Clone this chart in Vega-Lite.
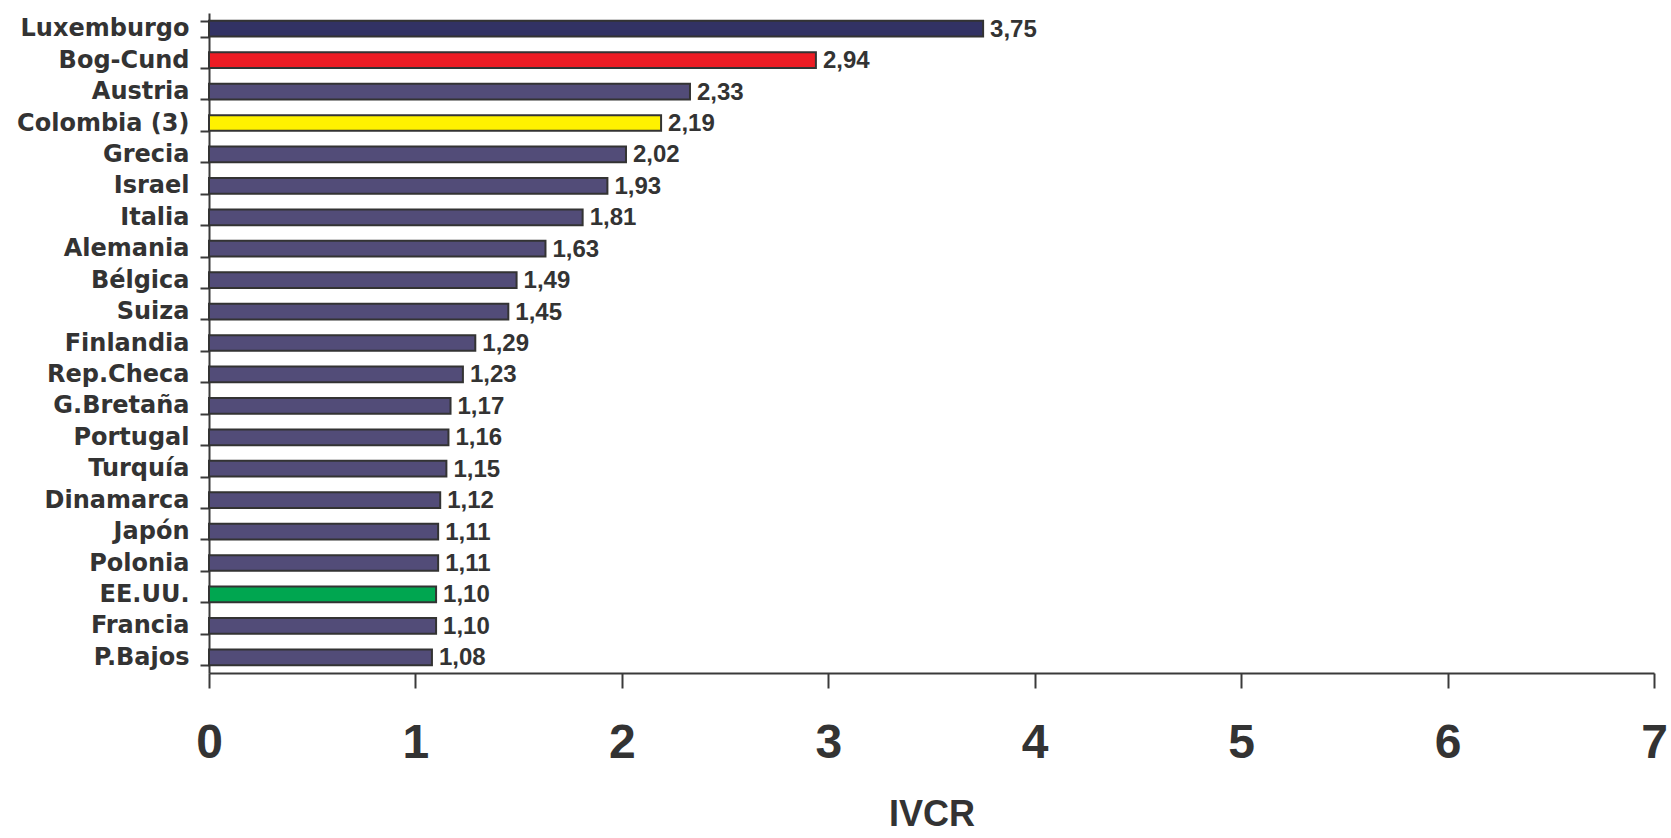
{
  "$schema": "https://vega.github.io/schema/vega-lite/v6.json",
  "autosize": {"type": "none"},
  "width": 1445,
  "height": 660,
  "padding": {"left": 209, "top": 13, "right": 17, "bottom": 165},
  "background": "white",
  "config": {
    "locale": {"number": {"decimal": ",", "thousands": ".", "grouping": [3], "currency": ["", ""]}},
    "view": {"stroke": null},
    "font": "Liberation Sans"
  },
  "data": {
    "values": [
      {"pais": "Luxemburgo", "ivcr": 3.75, "grupo": "Luxemburgo"},
      {"pais": "Bog-Cund", "ivcr": 2.94, "grupo": "Bogotá"},
      {"pais": "Austria", "ivcr": 2.33, "grupo": "Otros"},
      {"pais": "Colombia (3)", "ivcr": 2.19, "grupo": "Colombia"},
      {"pais": "Grecia", "ivcr": 2.02, "grupo": "Otros"},
      {"pais": "Israel", "ivcr": 1.93, "grupo": "Otros"},
      {"pais": "Italia", "ivcr": 1.81, "grupo": "Otros"},
      {"pais": "Alemania", "ivcr": 1.63, "grupo": "Otros"},
      {"pais": "Bélgica", "ivcr": 1.49, "grupo": "Otros"},
      {"pais": "Suiza", "ivcr": 1.45, "grupo": "Otros"},
      {"pais": "Finlandia", "ivcr": 1.29, "grupo": "Otros"},
      {"pais": "Rep.Checa", "ivcr": 1.23, "grupo": "Otros"},
      {"pais": "G.Bretaña", "ivcr": 1.17, "grupo": "Otros"},
      {"pais": "Portugal", "ivcr": 1.16, "grupo": "Otros"},
      {"pais": "Turquía", "ivcr": 1.15, "grupo": "Otros"},
      {"pais": "Dinamarca", "ivcr": 1.12, "grupo": "Otros"},
      {"pais": "Japón", "ivcr": 1.11, "grupo": "Otros"},
      {"pais": "Polonia", "ivcr": 1.11, "grupo": "Otros"},
      {"pais": "EE.UU.", "ivcr": 1.10, "grupo": "EE.UU."},
      {"pais": "Francia", "ivcr": 1.10, "grupo": "Otros"},
      {"pais": "P.Bajos", "ivcr": 1.08, "grupo": "Otros"}
    ]
  },
  "encoding": {
    "y": {
      "field": "pais",
      "type": "nominal",
      "sort": null,
      "scale": {"paddingInner": 0.5, "paddingOuter": 0.25},
      "axis": {
        "title": null,
        "domainColor": "#3a3a3a",
        "domainWidth": 2,
        "tickColor": "#3a3a3a",
        "tickWidth": 2,
        "tickSize": 9,
        "tickBand": "extent",
        "labelFont": "DejaVu Sans",
        "labelFontWeight": "bold",
        "labelFontSize": 24,
        "labelColor": "#333333",
        "labelPadding": 11
      }
    },
    "x": {
      "field": "ivcr",
      "type": "quantitative",
      "scale": {"domain": [0, 7], "nice": false},
      "axis": {
        "values": [0, 1, 2, 3, 4, 5, 6, 7],
        "grid": false,
        "title": "IVCR",
        "titleFont": "Liberation Sans",
        "titleFontSize": 36,
        "titleFontWeight": "bold",
        "titleColor": "#333333",
        "titlePadding": 30,
        "domainColor": "#3a3a3a",
        "domainWidth": 2,
        "tickColor": "#3a3a3a",
        "tickWidth": 2,
        "tickSize": 15,
        "labelFont": "Liberation Sans",
        "labelFontWeight": "bold",
        "labelFontSize": 48,
        "labelColor": "#333333",
        "labelPadding": 31,
        "labelFlush": false,
        "format": "d"
      }
    }
  },
  "layer": [
    {
      "mark": {"type": "bar", "stroke": "#333333", "strokeWidth": 2},
      "encoding": {
        "color": {
          "field": "grupo",
          "type": "nominal",
          "legend": null,
          "scale": {
            "domain": ["Luxemburgo", "Bogotá", "Colombia", "EE.UU.", "Otros"],
            "range": ["#323264", "#ED1C24", "#FFF200", "#00A650", "#524C78"]
          }
        }
      }
    },
    {
      "mark": {"type": "text", "align": "left", "baseline": "middle", "dx": 7, "dy": 1, "fontSize": 24, "fontWeight": "bold", "font": "Liberation Sans", "color": "#333333"},
      "encoding": {
        "text": {"field": "ivcr", "type": "quantitative", "format": ".2f"}
      }
    }
  ]
}
